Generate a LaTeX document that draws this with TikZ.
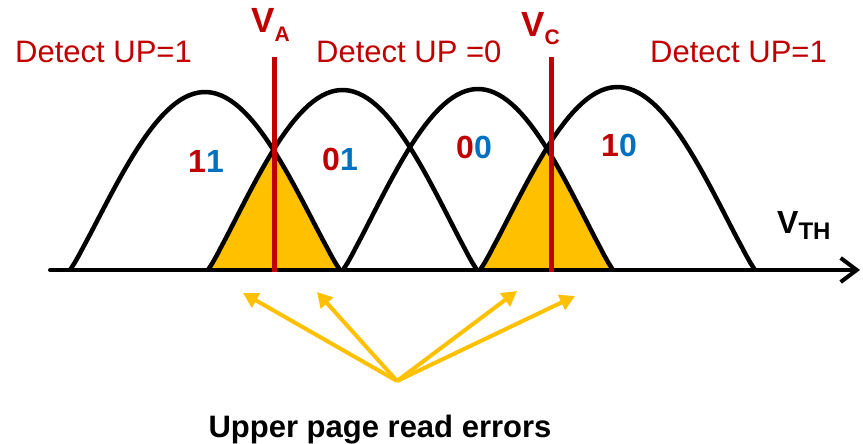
\documentclass[tikz,border=0pt]{standalone}
\usepackage{fontspec}
\setmainfont{Liberation Sans}
\usetikzlibrary{arrows.meta}
\definecolor{myred}{HTML}{C00000}
\definecolor{myblue}{HTML}{0070C0}
\definecolor{mygold}{HTML}{FFC000}
\tikzset{
 hump/.style={line width=4.5pt, black, line join=round},
 lbl/.style={inner sep=0pt, anchor=base west, font=\fontsize{31}{31}\selectfont, text=myred},
 code/.style={inner sep=0pt, anchor=base, font=\fontsize{32}{32}\selectfont\bfseries},
 vline/.style={myred, line width=5pt},
 axisline/.style={line width=4pt, line cap=round, -{Straight Barb[length=16pt,width=24pt,line width=4pt]}},
 errarrow/.style={mygold, line width=4pt, -{Triangle[length=15pt,width=16pt]}},
}
\begin{document}
\begin{tikzpicture}[x=1pt,y=-1pt]
\useasboundingbox (0,0) rectangle (863,444);
% orange overlaps
\begin{scope}
\clip plot[domain=-1:1,samples=60,variable=\u] ({342.5+134.5*\u},{270-180*pow(max(cos(90*\u),0.0001),1.1)}) -- cycle;
\fill[mygold] plot[domain=-1:1,samples=60,variable=\u] ({205+135*\u},{270-178*pow(max(cos(90*\u),0.0001),1.1)}) -- cycle;
\end{scope}
\begin{scope}
\clip plot[domain=-1:1,samples=60,variable=\u] ({617.5+137.5*\u},{270-183*pow(max(cos(90*\u),0.0001),1.1)}) -- cycle;
\fill[mygold] plot[domain=-1:1,samples=60,variable=\u] ({478+135*\u},{270-181*pow(max(cos(90*\u),0.0001),1.1)}) -- cycle;
\end{scope}
% humps
\draw[hump] plot[domain=-1:1,samples=60,variable=\u] ({205+135*\u},{270-178*pow(max(cos(90*\u),0.0001),1.1)});
\draw[hump] plot[domain=-1:1,samples=60,variable=\u] ({342.5+134.5*\u},{270-180*pow(max(cos(90*\u),0.0001),1.1)});
\draw[hump] plot[domain=-1:1,samples=60,variable=\u] ({478+135*\u},{270-181*pow(max(cos(90*\u),0.0001),1.1)});
\draw[hump] plot[domain=-1:1,samples=60,variable=\u] ({617.5+137.5*\u},{270-183*pow(max(cos(90*\u),0.0001),1.1)});
% axis
\coordinate (ax0) at (50,270);
\coordinate (ax1) at (860,270);
\draw[axisline] (ax0) -- (ax1);
% red read levels
\coordinate (vat) at (274,57);
\coordinate (vab) at (274,272);
\coordinate (vct) at (551,57);
\coordinate (vcb) at (551,272);
\draw[vline] (vat) -- (vab);
\draw[vline] (vct) -- (vcb);
% labels
\node[lbl] (d1) at (15,63) {Detect UP=1};
\node[lbl] (d2) at (316,63) {Detect UP =0};
\node[lbl] (d3) at (650,63) {Detect UP=1};
\node[code] (c11) at (206,172) {\textcolor{myred}{1}\textcolor{myblue}{1}};
\node[code] (c01) at (340,170) {\textcolor{myred}{0}\textcolor{myblue}{1}};
\node[code] (c00) at (474,158) {\textcolor{myred}{0}\textcolor{myblue}{0}};
\node[code] (c10) at (619,157) {\textcolor{myred}{1}\textcolor{myblue}{0}};
\node[inner sep=0pt, anchor=base west, text=myred, font=\bfseries] (va) at (251,33) {\fontsize{35}{35}\selectfont V\raisebox{-9pt}{\fontsize{21}{21}\selectfont A}};
\node[inner sep=0pt, anchor=base west, text=myred, font=\bfseries] (vc) at (521,37) {\fontsize{35}{35}\selectfont V\raisebox{-8pt}{\fontsize{21}{21}\selectfont C}};
\node[inner sep=0pt, anchor=base west, text=black, font=\bfseries] (vth) at (777,233) {\fontsize{32}{32}\selectfont V\raisebox{-6pt}{\fontsize{24}{24}\selectfont TH}};
\node[inner sep=0pt, anchor=base, font=\fontsize{31}{31}\selectfont\bfseries] (err) at (380,437) {Upper page read errors};
% error arrows
\coordinate (src) at (397,381);
\coordinate (t1) at (243,293);
\coordinate (t2) at (317,292);
\coordinate (t3) at (517,291);
\coordinate (t4) at (575,296);
\draw[errarrow] (src) -- (t1);
\draw[errarrow] (src) -- (t2);
\draw[errarrow] (src) -- (t3);
\draw[errarrow] (src) -- (t4);
\end{tikzpicture}
\end{document}
